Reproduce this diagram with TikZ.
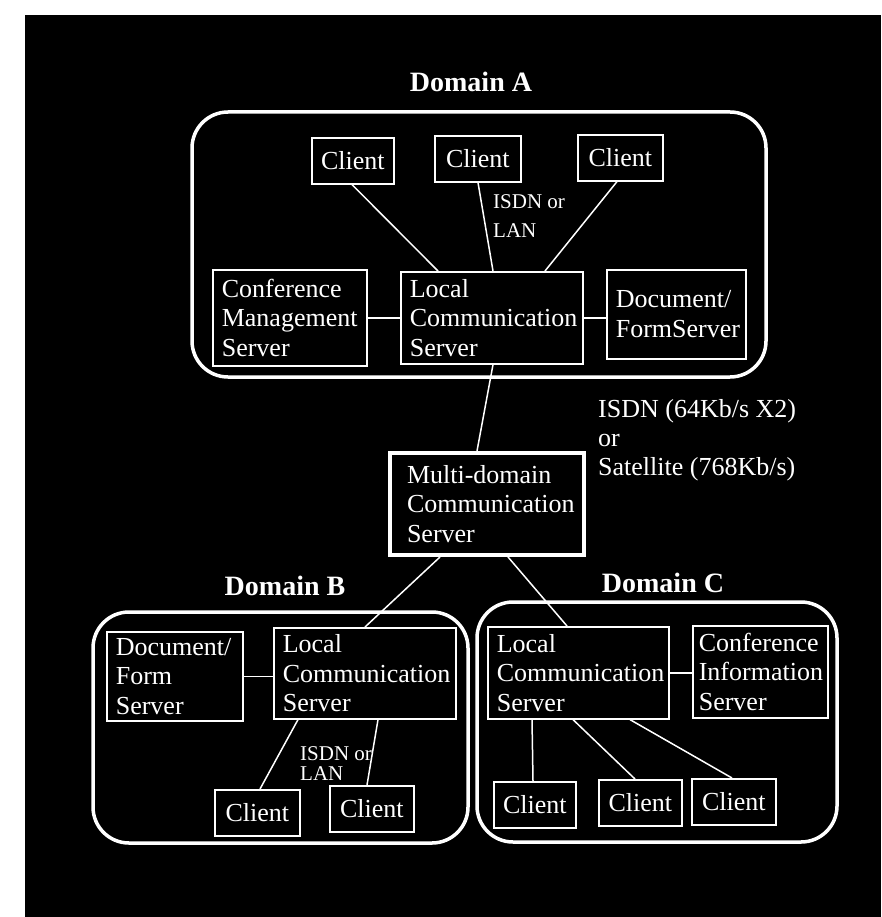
\documentclass[tikz,border=0pt]{standalone}
\usepackage{fontspec}
\setmainfont{Liberation Serif}
\begin{document}
\begin{tikzpicture}[x=1pt,y=-1pt,
  txt/.style={text=white, font=\fontsize{26}{29.5}\selectfont},
  srvbox/.style={txt, draw=white, line width=1.6pt, anchor=north west,
    align=left, inner xsep=9pt, inner ysep=0pt},
  clientbox/.style={txt, draw=white, line width=1.6pt, anchor=north west,
    inner sep=0pt, minimum height=46pt},
  domainframe/.style={draw=white, line width=3.5pt, rounded corners=36pt},
  dlabel/.style={text=white, font=\bfseries\fontsize{28}{30}\selectfont,
    anchor=base, inner sep=0pt},
  notetext/.style={text=white, anchor=north west, align=left, inner sep=0pt},
  wire/.style={draw=white, line width=1.5pt}
]
% page and dark panel
\useasboundingbox (0,0) rectangle (881,917);
\fill[white] (0,0) rectangle (881,917);
\fill[black] (25,15) rectangle (881,917);

% ---------------- Domain A ----------------
\node[dlabel] (dA) at (471,92) {Domain A};
\draw[domainframe] (192,112) rectangle (766,377);

\node[clientbox, minimum width=82pt] (cla1) at (311,137) {Client};
\node[clientbox, minimum width=86pt] (cla2) at (434,135) {Client};
\node[clientbox, minimum width=85pt] (cla3) at (577,134) {Client};

\node[srvbox, text width=136pt, minimum height=96pt] (cms) at (212,269)
  {Conference\\Management\\Server};
\node[srvbox, text width=164pt, minimum height=92pt] (lcsa) at (400,271)
  {Local\\Communication\\Server};
\node[srvbox, text width=121pt, minimum height=89pt] (doca) at (606,269)
  {Document/\\FormServer};

\node[notetext, font=\fontsize{21}{29}\selectfont] (nota) at (493,194)
  {ISDN or\\LAN};

\draw[wire] ([xshift=41pt]cla1.south west) -- ([xshift=38pt]lcsa.north west);
\draw[wire] ([xshift=44pt]cla2.south west) -- ([xshift=93pt]lcsa.north west);
\draw[wire] ([xshift=40pt]cla3.south west) -- ([xshift=145pt]lcsa.north west);
\draw[wire] (cms.east) -- (cms.east -| lcsa.west);
\draw[wire] (lcsa.east) -- (lcsa.east -| doca.west);

% ---------------- inter-domain server ----------------
\node[srvbox, line width=4pt, inner xsep=17pt, text width=160pt,
  minimum height=102pt] (mdcs) at (388,451)
  {Multi-domain\\Communication\\Server};

\node[notetext, font=\fontsize{26}{29}\selectfont] (wan) at (598,399)
  {ISDN (64Kb/s X2)\\or\\Satellite (768Kb/s)};

\draw[wire] ([xshift=93pt]lcsa.south west) -- ([xshift=89pt]mdcs.north west);

% ---------------- Domain B ----------------
\node[dlabel] (dB) at (285,595) {Domain B};
\draw[domainframe] (93,612) rectangle (468,843);

\node[srvbox, text width=118pt, minimum height=89pt] (docb) at (106,631)
  {Document/\\Form\\Server};
\node[srvbox, text width=164pt, minimum height=91pt] (lcsb) at (273,627)
  {Local\\Communication\\Server};
\node[clientbox, minimum width=85pt] (clb1) at (214,789) {Client};
\node[clientbox, minimum width=84pt] (clb2) at (329,785) {Client};

\node[notetext, font=\fontsize{21}{20}\selectfont] (notb) at (300,746)
  {ISDN or\\LAN};

\draw[wire] (docb.east) -- (docb.east -| lcsb.west);
\draw[wire] ([xshift=25pt]lcsb.south west) -- ([xshift=46pt]clb1.north west);
\draw[wire] ([xshift=105pt]lcsb.south west) -- ([xshift=38pt]clb2.north west);

% ---------------- Domain C ----------------
\node[dlabel] (dC) at (663,592) {Domain C};
\draw[domainframe] (477,602) rectangle (837,842);

\node[srvbox, text width=163pt, minimum height=92pt] (lcsc) at (487,626)
  {Local\\Communication\\Server};
\node[srvbox, inner xsep=6pt, text width=123pt, minimum height=92pt] (cis)
  at (692,625) {Conference\\Information\\Server};
\node[clientbox, minimum width=82pt] (clc1) at (493,781) {Client};
\node[clientbox, minimum width=83pt] (clc2) at (598,779) {Client};
\node[clientbox, minimum width=84pt] (clc3) at (691,778) {Client};

\draw[wire] (lcsc.east) -- (lcsc.east -| cis.west);
\draw[wire] ([xshift=45pt]lcsc.south west) -- ([xshift=40pt]clc1.north west);
\draw[wire] ([xshift=86pt]lcsc.south west) -- ([xshift=37pt]clc2.north west);
\draw[wire] ([xshift=143pt]lcsc.south west) -- ([xshift=41pt]clc3.north west);

% ---------------- backbone to the domains ----------------
\draw[wire] ([xshift=52pt]mdcs.south west) -- ([xshift=92pt]lcsb.north west);
\draw[wire] ([xshift=120pt]mdcs.south west) -- ([xshift=80pt]lcsc.north west);
\end{tikzpicture}
\end{document}
